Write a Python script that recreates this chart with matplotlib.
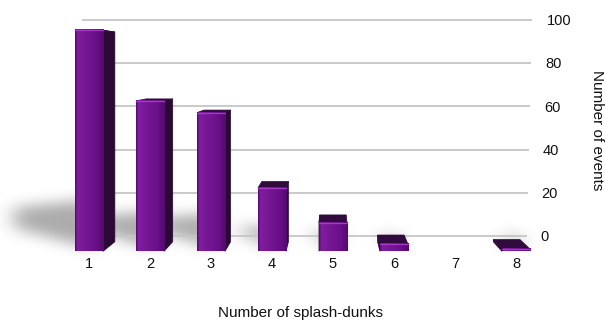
import numpy as np
import matplotlib
matplotlib.use('Agg')
import matplotlib.pyplot as plt
from matplotlib.patches import Polygon
from matplotlib.path import Path
from matplotlib.colors import LinearSegmentedColormap

plt.rcParams['font.family'] = ['Liberation Sans', 'DejaVu Sans']

# Data
dunks = [1, 2, 3, 4, 5, 6, 7, 8]
events = [94, 64, 59, 27, 12, 3, 0, 1]
y_ticks = [0, 20, 40, 60, 80, 100]
x_title = 'Number of splash-dunks'
y_title = 'Number of events'

# Simple perspective: camera height/position in data units,
# scale of the bar fronts and backs relative to the back wall
CAM_H = 80.0
CAM_X = 5.0
S_FRONT = 1.089
S_BACK = 1.033
BAR_W = 0.46


def project(x, h, s):
    return CAM_X + (x - CAM_X) * s / S_FRONT, CAM_H + (h - CAM_H) * s


W, HP = 605, 322
PX_X, PX_Y = 61.0, 2.16   # pixels per category / per event
fig = plt.figure(figsize=(W / 100, HP / 100), dpi=100)
ax = fig.add_axes([0, 0, 1, 1])
x0 = 1 - 89 / PX_X
x1 = x0 + W / PX_X
y1 = 236 / PX_Y
y0 = y1 - HP / PX_Y


def px_x(p):
    return 1 + (p - 89) / PX_X


# gridlines on the back wall
for v in y_ticks:
    ax.plot([px_x(82), px_x(527 + 0.05 * v)], [v, v], color='#c6c6c6', lw=1.3,
            zorder=1, solid_capstyle='butt')
    ax.text(px_x(540 + 0.07 * v), v - 0.6, str(v), ha='left', va='center',
            fontsize=10.5, color='#111111')

# soft floor shadow cast to the left
xs = np.linspace(x0, x1, W)
ys = np.linspace(y0, y1, HP)
XX, YY = np.meshgrid(xs, ys)
pts = np.column_stack([XX.ravel(), YY.ravel()])
mask = np.zeros(XX.size)
floor = project(0, 0, S_FRONT)[1]
for x, v in zip(dunks, events):
    if v == 0:
        continue
    xl = x - BAR_W / 2
    reach = 0.0108 * v
    poly = [(xl + 0.3, floor + 1), (xl + 0.3, 0.18 * v),
            (xl - reach, 0.14 * v), (xl - reach, 0.04 * v)]
    mask = np.maximum(mask, Path(poly).contains_points(pts))
mask = mask.reshape(XX.shape)


def gauss(n, sigma):
    k = np.exp(-0.5 * (np.arange(-n, n + 1) / sigma) ** 2)
    return k / k.sum()


kx, ky = gauss(30, 10), gauss(21, 7)
blur = np.apply_along_axis(lambda r: np.convolve(r, kx, mode='same'), 1, mask)
blur = np.apply_along_axis(lambda c: np.convolve(c, ky, mode='same'), 0, blur)
shadow = np.zeros(XX.shape + (4,))
shadow[..., 3] = 0.33 * blur
ax.imshow(shadow, extent=(x0, x1, y0, y1), origin='lower', aspect='auto',
          zorder=0.5, interpolation='bilinear')

# bars
front_cmap = LinearSegmentedColormap.from_list(
    'front', [(0, '#4e0a63'), (0.07, '#801ea3'), (0.35, '#761793'),
              (0.75, '#681089'), (1, '#540a6e')])
grad = np.linspace(0, 1, 64)[None, :]
for x, v in zip(dunks, events):
    if v == 0:
        continue
    xl, xr = x - BAR_W / 2, x + BAR_W / 2
    fl_b, fr_b = project(xl, 0, S_FRONT), project(xr, 0, S_FRONT)
    fl_t, fr_t = project(xl, v, S_FRONT), project(xr, v, S_FRONT)
    bl_b, br_b = project(xl, 0, S_BACK), project(xr, 0, S_BACK)
    bl_t, br_t = project(xl, v, S_BACK), project(xr, v, S_BACK)
    if x < CAM_X:
        side = [fr_b, fr_t, br_t, br_b]
    else:
        side = [fl_b, fl_t, bl_t, bl_b]
    ax.add_patch(Polygon(side, closed=True, fc='#2a0934', ec='#2a0934',
                         lw=0.5, zorder=2))
    ax.add_patch(Polygon([fl_t, fr_t, br_t, bl_t], closed=True, fc='#300b3e',
                         ec='#300b3e', lw=0.5, zorder=2))
    ax.imshow(grad, cmap=front_cmap, extent=(xl, xr, fl_b[1], fl_t[1]),
              aspect='auto', zorder=3, interpolation='bilinear')
    ax.plot([xl, xr], [fl_t[1], fl_t[1]], color='#a838cc', lw=0.9, zorder=4)

# category labels and titles
for x in dunks:
    ax.text(x, -13, str(x), ha='center', va='center', fontsize=10.5,
            color='#111111')
ax.text(px_x(301), -35.6, x_title, ha='center', va='center', fontsize=11,
        color='#111111')
ax.text(px_x(597), 49, y_title, ha='center', va='center', rotation=270,
        fontsize=11, color='#111111')

ax.set_xlim(x0, x1)
ax.set_ylim(y0, y1)
ax.axis('off')
fig.savefig('out.png', dpi=100, facecolor='white')
